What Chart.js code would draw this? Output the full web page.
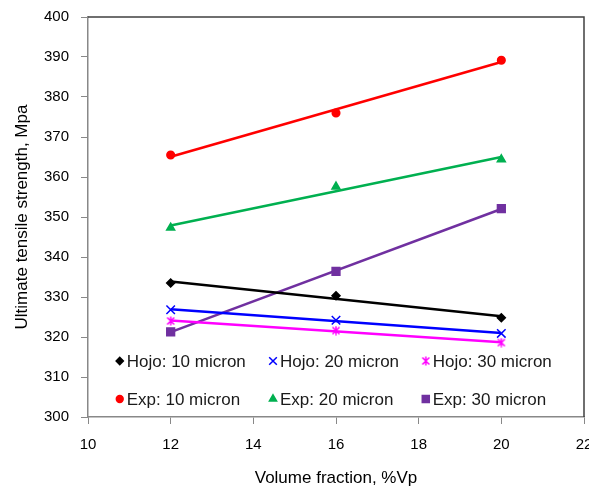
<!DOCTYPE html>
<html>
<head>
<meta charset="utf-8">
<script src="https://cdn.jsdelivr.net/npm/chart.js@4.4.1/dist/chart.umd.min.js"></script>
<style>
  body { margin: 0; background: #fff; }
</style>
</head>
<body>
<canvas id="grafico" width="589" height="487"></canvas>
<script>
// Volume fraction (%Vp)
var volumeFraction = [12, 16, 20];

// Ultimate tensile strength, Mpa
var hojo10 = [333.5, 330.3, 324.8];
var hojo20 = [326.8, 324.2, 320.9];
var hojo30 = [324.0, 321.6, 318.6];
var exp10 = [365.5, 376.0, 389.2];
var exp20 = [347.3, 357.6, 364.4];
var exp30 = [321.3, 336.4, 352.1];

var seriesNames = ['Hojo: 10 micron', 'Hojo: 20 micron', 'Hojo: 30 micron',
                   'Exp: 10 micron', 'Exp: 20 micron', 'Exp: 30 micron'];

var xTicks = [10, 12, 14, 16, 18, 20, 22];
var yTicks = [300, 310, 320, 330, 340, 350, 360, 370, 380, 390, 400];

var fontFamily = '"Liberation Sans", Arial, sans-serif';

// Excel style star marker (X with a vertical bar)
function starMarker(color) {
    var c = document.createElement('canvas');
    c.width = 10; c.height = 10;
    var g = c.getContext('2d');
    g.strokeStyle = color;
    g.lineWidth = 1.5;
    g.beginPath();
    g.moveTo(1.5, 1.5); g.lineTo(8.5, 8.5);
    g.moveTo(8.5, 1.5); g.lineTo(1.5, 8.5);
    g.moveTo(5, 0.5); g.lineTo(5, 9.5);
    g.stroke();
    return c;
}

var styles = [
    { color: '#000000', pointStyle: 'rectRot', radius: 4 },
    { color: '#0000FF', pointStyle: 'crossRot', radius: 6 },
    { color: '#FF00FF', pointStyle: starMarker('#FF00FF'), radius: 5 },
    { color: '#FF0000', pointStyle: 'circle', radius: 3.8 },
    { color: '#00B050', pointStyle: 'triangle', radius: 4.6 },
    { color: '#7030A0', pointStyle: 'rect', radius: 5.5 }
];

var allSeries = [hojo10, hojo20, hojo30, exp10, exp20, exp30];

// Linear trend line (least squares) over the data points
function trendLine(xs, ys) {
    var n = xs.length, sx = 0, sy = 0, sxx = 0, sxy = 0;
    for (var i = 0; i < n; i++) {
        sx += xs[i]; sy += ys[i];
        sxx += xs[i] * xs[i]; sxy += xs[i] * ys[i];
    }
    var m = (n * sxy - sx * sy) / (n * sxx - sx * sx);
    var b = (sy - m * sx) / n;
    return [{ x: xs[0], y: m * xs[0] + b }, { x: xs[n - 1], y: m * xs[n - 1] + b }];
}

var datasets = [];
// markers first so they are drawn on top of the lines
allSeries.forEach(function (ys, i) {
    datasets.push({
        label: seriesNames[i],
        data: volumeFraction.map(function (x, j) { return { x: x, y: ys[j] }; }),
        showLine: false,
        pointStyle: styles[i].pointStyle,
        pointRadius: styles[i].radius,
        pointHoverRadius: styles[i].radius,
        pointBackgroundColor: styles[i].color,
        pointBorderColor: styles[i].color,
        pointBorderWidth: 1.5
    });
});
allSeries.forEach(function (ys, i) {
    datasets.push({
        label: seriesNames[i] + ' trend',
        data: trendLine(volumeFraction, ys),
        showLine: true,
        borderColor: styles[i].color,
        borderWidth: 2.5,
        pointRadius: 0
    });
});

// Legend drawn inside the plot, two rows of three
var legendInside = {
    id: 'legendInside',
    afterDatasetsDraw: function (chart) {
        var ctx = chart.ctx, a = chart.chartArea;
        var w = a.right - a.left, h = a.bottom - a.top;
        var cols = [0.064, 0.373, 0.681];
        var rows = [0.86, 0.955];
        ctx.save();
        ctx.font = '17px ' + fontFamily;
        ctx.textBaseline = 'middle';
        ctx.textAlign = 'left';
        for (var i = 0; i < 6; i++) {
            var x = a.left + cols[i % 3] * w;
            var y = a.top + rows[Math.floor(i / 3)] * h;
            var s = styles[i];
            ctx.fillStyle = s.color;
            ctx.strokeStyle = s.color;
            ctx.lineWidth = 1.5;
            Chart.helpers.drawPoint(ctx, {
                pointStyle: s.pointStyle,
                radius: s.radius * 0.9,
                rotation: 0,
                borderWidth: 1.5
            }, x, y);
            ctx.fillStyle = '#1a1a1a';
            ctx.fillText(seriesNames[i], x + 7, y + 1);
        }
        ctx.restore();
    }
};

// Top and right border of the plot area, plus x tick labels
var plotFrame = {
    id: 'plotFrame',
    beforeDatasetsDraw: function (chart) {
        var ctx = chart.ctx, a = chart.chartArea;
        ctx.save();
        ctx.strokeStyle = '#404040';
        ctx.lineWidth = 1.5;
        ctx.beginPath();
        ctx.moveTo(a.left, a.top);
        ctx.lineTo(a.right, a.top);
        ctx.lineTo(a.right, a.bottom);
        ctx.stroke();

        // x labels drawn here so the last one may run past the edge like the original
        var sx = chart.scales.x;
        ctx.font = '15px ' + fontFamily;
        ctx.fillStyle = '#000';
        ctx.textAlign = 'center';
        ctx.textBaseline = 'middle';
        xTicks.forEach(function (v) {
            ctx.fillText(String(v), sx.getPixelForValue(v), a.bottom + 28);
        });
        ctx.restore();
    }
};

new Chart(document.getElementById('grafico'), {
    type: 'scatter',
    data: { datasets: datasets },
    options: {
        responsive: false,
        devicePixelRatio: 1,
        animation: false,
        layout: { autoPadding: false, padding: { top: 17, right: 5, left: 0, bottom: 0 } },
        plugins: {
            legend: { display: false },
            tooltip: { enabled: false }
        },
        scales: {
            x: {
                type: 'linear',
                min: 10, max: 22,
                afterBuildTicks: function (scale) {
                    scale.ticks = xTicks.map(function (v) { return { value: v }; });
                },
                afterFit: function (scale) {
                    scale.height = 70;
                },
                ticks: { display: false },
                grid: { drawOnChartArea: false, tickLength: 7, color: '#888' },
                border: { color: '#888', width: 1.5 },
                title: {
                    display: true, text: 'Volume fraction, %Vp',
                    font: { family: fontFamily, size: 17 }, color: '#000',
                    padding: { top: 0, bottom: -2 }
                }
            },
            y: {
                type: 'linear',
                min: 300, max: 400,
                afterBuildTicks: function (scale) {
                    scale.ticks = yTicks.map(function (v) { return { value: v }; });
                },
                afterFit: function (scale) {
                    scale.width = 88;
                    scale.paddingTop = 0;
                    scale.paddingBottom = 0;
                },
                ticks: { font: { family: fontFamily, size: 15 }, color: '#000', padding: 12 },
                grid: { drawOnChartArea: false, tickLength: 7, color: '#888' },
                border: { color: '#888', width: 1.5 },
                title: {
                    display: true, text: 'Ultimate tensile strength, Mpa',
                    font: { family: fontFamily, size: 17 }, color: '#000',
                    padding: { top: 12, bottom: 0 }
                }
            }
        }
    },
    plugins: [plotFrame, legendInside]
});
</script>
</body>
</html>
